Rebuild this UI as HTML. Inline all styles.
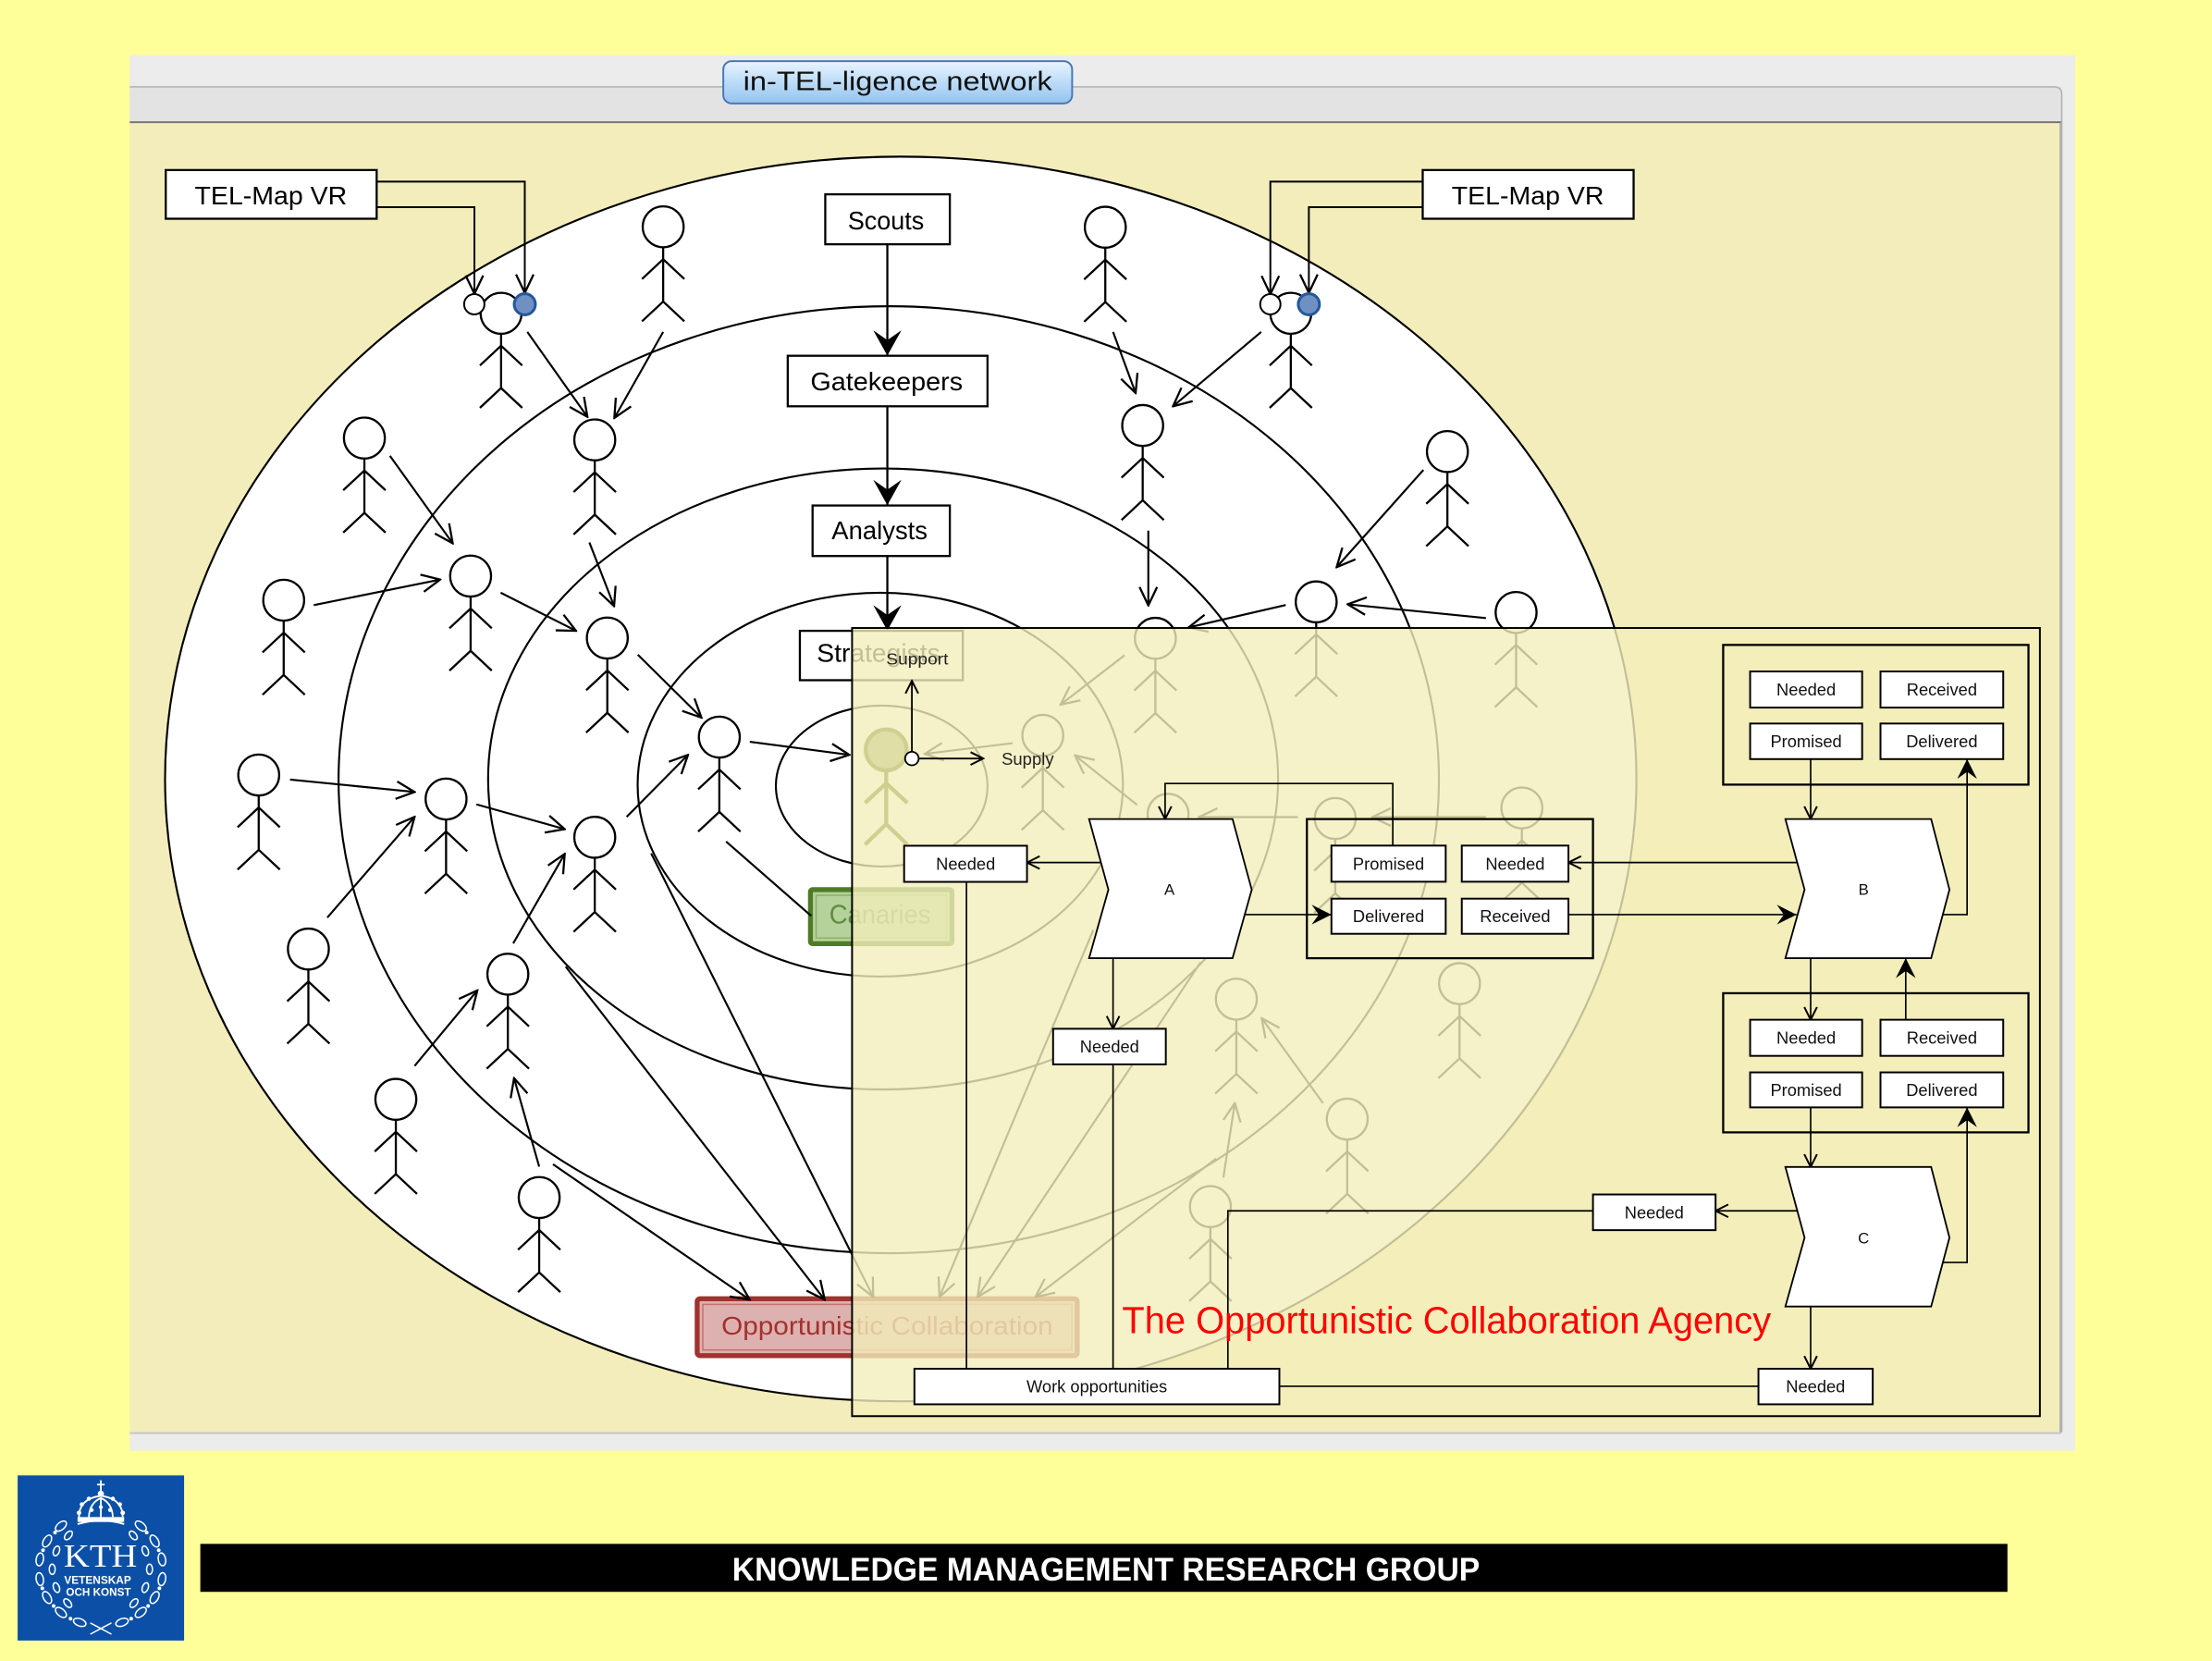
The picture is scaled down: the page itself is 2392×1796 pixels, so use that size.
<!DOCTYPE html>
<html><head><meta charset="utf-8">
<style>
html,body{margin:0;padding:0;background:#ffff99;width:2392px;height:1796px;overflow:hidden}
svg{display:block}
</style></head>
<body>
<svg xmlns="http://www.w3.org/2000/svg" width="2392" height="1796" viewBox="0 0 1568 1177" preserveAspectRatio="none" style="font-family:'Liberation Sans',sans-serif">
<defs>
  <marker id="oa" viewBox="-1 -1 16 16" refX="14" refY="7" markerWidth="16" markerHeight="16" markerUnits="userSpaceOnUse" orient="auto">
    <path d="M1,0.8 L14,7 L1,13.2" fill="none" stroke="#000" stroke-width="1.5"/>
  </marker>
  <marker id="fa" viewBox="0 0 18 20" refX="18" refY="10" markerWidth="18" markerHeight="20" markerUnits="userSpaceOnUse" orient="auto">
    <path d="M18,10 L0,0 L7,10 L0,20 Z" fill="#000"/>
  </marker>
  <marker id="po" viewBox="-1 -1 12 12" refX="10" refY="5" markerWidth="12" markerHeight="12" markerUnits="userSpaceOnUse" orient="auto">
    <path d="M1,0.5 L10,5 L1,9.5" fill="none" stroke="#000" stroke-width="1.3"/>
  </marker>
  <marker id="pf" viewBox="0 0 14 14" refX="14" refY="7" markerWidth="14" markerHeight="14" markerUnits="userSpaceOnUse" orient="auto">
    <path d="M14,7 L0,0 L5,7 L0,14 Z" fill="#000"/>
  </marker>
  <g id="fig" fill="none" stroke="#000" stroke-width="1.5">
    <circle cx="0" cy="0" r="14.5"/>
    <path d="M0,14.5 V53 M-15,37 L0,23 L15,37 M-15,67 L0,53 L15,67"/>
  </g>
  <linearGradient id="btn" x1="0" y1="0" x2="0" y2="1">
    <stop offset="0" stop-color="#eaf4ff"/>
    <stop offset="0.5" stop-color="#bcdcf8"/>
    <stop offset="1" stop-color="#94c4ef"/>
  </linearGradient>
</defs>

<!-- page bg -->
<rect x="0" y="0" width="1568" height="1177" fill="#ffff99"/>

<!-- window -->
<rect x="92" y="39" width="1379" height="989" fill="#ececec"/>
<rect x="92" y="61.5" width="1369.5" height="26" fill="#e3e3e3"/>
<path d="M92,61.5 H1456 Q1461.5,61.5 1461.5,67 V1015" fill="none" stroke="#b0b0b0" stroke-width="1"/>
<rect x="92" y="87" width="1368" height="928" fill="#f2edba"/>
<line x1="92" y1="86.6" x2="1461" y2="86.6" stroke="#777" stroke-width="1.3"/>
<line x1="92" y1="1015.5" x2="1461" y2="1015.5" stroke="#c4c4c4" stroke-width="1.2"/>
<line x1="1460.5" y1="87" x2="1460.5" y2="1015" stroke="#a8a8a8" stroke-width="1"/>

<!-- title button -->
<rect x="512.7" y="43.3" width="247.3" height="30" rx="6" fill="url(#btn)" stroke="#4a78b6" stroke-width="1.3"/>
<text x="526.8" y="64" font-size="18.5" fill="#111" textLength="219" lengthAdjust="spacingAndGlyphs">in-TEL-ligence network</text>

<!-- ellipses -->
<ellipse cx="638.5" cy="552" rx="521.5" ry="441" fill="#fff" stroke="#000" stroke-width="1.4"/>
<g fill="none" stroke="#000" stroke-width="1.4">
  <ellipse cx="630" cy="552.5" rx="390" ry="335.5"/>
  <ellipse cx="626" cy="552" rx="280" ry="220"/>
  <ellipse cx="624" cy="556" rx="172" ry="136"/>
  <ellipse cx="625" cy="557" rx="75" ry="57"/>
</g>

<!-- network boxes -->
<g fill="#fff" stroke="#000" stroke-width="1.5">
  <rect x="117.5" y="120.5" width="149.5" height="34.5"/>
  <rect x="1008.5" y="120.5" width="149.5" height="34.5"/>
  <rect x="585" y="137.7" width="88.3" height="35.4"/>
  <rect x="558.4" y="252.1" width="141.6" height="35.8"/>
  <rect x="576" y="358.2" width="97.3" height="35.8"/>
  <rect x="567" y="447" width="115.5" height="35"/>
</g>
<g font-size="18" fill="#000">
  <text x="138" y="144.9" textLength="108" lengthAdjust="spacingAndGlyphs">TEL-Map VR</text>
  <text x="1029" y="144.9" textLength="108" lengthAdjust="spacingAndGlyphs">TEL-Map VR</text>
  <text x="601" y="162.5" textLength="54" lengthAdjust="spacingAndGlyphs">Scouts</text>
  <text x="574.5" y="276.6" textLength="108" lengthAdjust="spacingAndGlyphs">Gatekeepers</text>
  <text x="589.5" y="382" textLength="68" lengthAdjust="spacingAndGlyphs">Analysts</text>
  <text x="579" y="469" textLength="87.5" lengthAdjust="spacingAndGlyphs">Strategists</text>
</g>

<!-- Canaries -->
<rect x="574.5" y="630.4" width="100.3" height="38.3" rx="1.5" fill="#b5d19c" stroke="#4e7c26" stroke-width="3.5"/>
<rect x="578.5" y="634.4" width="92.3" height="30.3" fill="none" stroke="#8db26c" stroke-width="1"/>
<text x="587.8" y="654.5" font-size="19" fill="#5e8c3c" textLength="72" lengthAdjust="spacingAndGlyphs">Canaries</text>

<!-- Opportunistic Collaboration -->
<rect x="494.2" y="920.3" width="269.4" height="40.3" rx="2" fill="#ddb1b0" stroke="#a0332f" stroke-width="3.5"/>
<rect x="498.2" y="924.3" width="261.4" height="32.3" fill="none" stroke="#c4726f" stroke-width="1"/>
<text x="511.4" y="945.7" font-size="18" fill="#a3302d" textLength="235" lengthAdjust="spacingAndGlyphs">Opportunistic Collaboration</text>

<!-- vertical hierarchy arrows -->
<g stroke="#000" stroke-width="1.5" fill="none" marker-end="url(#fa)">
  <path d="M629,173 V252"/>
  <path d="M629,288 V358"/>
  <path d="M629,394 V446.8"/>
</g>

<!-- TEL-Map connectors -->
<g stroke="#000" stroke-width="1.3" fill="none" marker-end="url(#oa)">
  <path d="M267,128.7 H372 V207.5"/>
  <path d="M267,146.8 H336.3 V208.2"/>
  <path d="M1008.5,128.7 H900.5 V208.5"/>
  <path d="M1008.5,146.8 H927.8 V207.5"/>
</g>

<!-- figures -->
<use href="#fig" x="470.1" y="160.7"/>
<use href="#fig" x="355.2" y="222"/>
<use href="#fig" x="783.5" y="161"/>
<use href="#fig" x="915" y="222"/>
<use href="#fig" x="258.3" y="310.4"/>
<use href="#fig" x="421.6" y="311.7"/>
<use href="#fig" x="810" y="301.5"/>
<use href="#fig" x="1026" y="320"/>
<use href="#fig" x="201.1" y="425.3"/>
<use href="#fig" x="333.6" y="408.2"/>
<use href="#fig" x="430.5" y="452.1"/>
<use href="#fig" x="933" y="426.5"/>
<use href="#fig" x="1074.7" y="434"/>
<use href="#fig" x="819" y="452.3"/>
<use href="#fig" x="509.9" y="522.3"/>
<use href="#fig" x="739.2" y="521.1"/>
<use href="#fig" x="183.4" y="549.2"/>
<use href="#fig" x="316.2" y="566.2"/>
<use href="#fig" x="421.6" y="593.3"/>
<use href="#fig" x="218.6" y="672.5"/>
<use href="#fig" x="360" y="690.3"/>
<use href="#fig" x="280.6" y="779"/>
<use href="#fig" x="382.2" y="848.6"/>
<use href="#fig" x="828" y="577"/>
<use href="#fig" x="946.5" y="580"/>
<use href="#fig" x="1078.8" y="572.5"/>
<use href="#fig" x="876.4" y="708"/>
<use href="#fig" x="1034.6" y="697"/>
<use href="#fig" x="955" y="793"/>
<use href="#fig" x="858" y="855"/>

<!-- small circles on figures -->
<circle cx="336.2" cy="215.6" r="7.2" fill="#fff" stroke="#000" stroke-width="1.3"/>
<circle cx="372" cy="215.6" r="7.5" fill="#7090c4" stroke="#24589a" stroke-width="2"/>
<circle cx="900.5" cy="215.6" r="7.2" fill="#fff" stroke="#000" stroke-width="1.3"/>
<circle cx="927.8" cy="215.6" r="7.5" fill="#7090c4" stroke="#24589a" stroke-width="2"/>

<!-- network arrows -->
<g stroke="#000" stroke-width="1.4" fill="none" marker-end="url(#oa)">
  <path d="M373.8,235.2 L416.4,295.4"/>
  <path d="M470.1,235.2 L435.5,296.2"/>
  <path d="M276.4,323 L320.9,385"/>
  <path d="M417.8,384.4 L435.3,429.5"/>
  <path d="M222.4,428.8 L312,410.7"/>
  <path d="M354.9,420 L408.3,447"/>
  <path d="M452.1,463.9 L497.2,508.5"/>
  <path d="M531.5,525.6 L602,534.9"/>
  <path d="M205.6,552.4 L293.9,561.2"/>
  <path d="M337.7,570 L400.3,587.5"/>
  <path d="M444.2,578.8 L487.7,534.9"/>
  <path d="M232,650.2 L293.9,578.8"/>
  <path d="M363.8,668.5 L400.3,605.1"/>
  <path d="M293.9,755.3 L338.4,701.8"/>
  <path d="M382.2,826.7 L364.4,764"/>
  <path d="M401,685 L584.6,921"/>
  <path d="M392,825 L531.5,921"/>
  <path d="M461.6,604.7 L619,919"/>
  <path d="M789,235.2 L805,278.5"/>
  <path d="M894,235.2 L831.5,287.9"/>
  <path d="M1009,333 L947.5,401.9"/>
  <path d="M814,376 L814,429"/>
  <path d="M911.4,428.7 L842.6,444.6"/>
  <path d="M1053.3,438 L955.3,428.2"/>
  <path d="M775,659 L666,919"/>
  <path d="M851,682 L693,919"/>
  <path d="M862,821 L734,919"/>
  <path d="M937.8,781.7 L894.4,721.5"/>
  <path d="M867.2,834.4 L875.3,781.7"/>
  <path d="M1053.3,579 L972.8,579"/>
  <path d="M920,579 L849.9,579"/>
  <path d="M797.2,464.3 L751.8,499.3"/>
  <path d="M806,570.3 L762,535.3"/>
  <path d="M717.8,526.6 L655.5,534.2"/>
</g>
<path d="M514.7,596.3 L575,649" stroke="#000" stroke-width="1.4" fill="none"/>

<!-- Agency panel overlay -->
<rect x="604" y="445" width="842" height="558.5" fill="#f2edba" fill-opacity="0.8" stroke="#000" stroke-width="1.3"/>

<!-- olive highlighted figure -->
<g fill="none" stroke="#cfcf90" stroke-width="2.8">
  <circle cx="628.2" cy="531.4" r="14.5" fill="#dfdea6"/>
  <path d="M628.2,546 V584 M613.2,569 L628.2,555 L643.2,569 M613.2,598.5 L628.2,584 L643.2,598.5"/>
</g>

<!-- Support / Supply -->
<g stroke="#000" stroke-width="1.2" fill="none" marker-end="url(#po)">
  <path d="M646.4,532.7 V482.4"/>
  <path d="M651.2,537.5 H697"/>
</g>
<circle cx="646.4" cy="537.5" r="4.8" fill="#fff" stroke="#000" stroke-width="1.2"/>
<text x="628.2" y="470.8" font-size="11.5" fill="#222" textLength="44" lengthAdjust="spacingAndGlyphs">Support</text>
<text x="710" y="541.9" font-size="12" fill="#222" textLength="37" lengthAdjust="spacingAndGlyphs">Supply</text>

<!-- panel connector lines -->
<g stroke="#000" stroke-width="1.1" fill="none">
  <path d="M685.1,624.9 V969.9"/>
  <path d="M789,754.2 V969.9"/>
  <path d="M1129.2,858 H870.4 V969.9"/>
  <path d="M906.9,982.3 H1246.5"/>
</g>
<g stroke="#000" stroke-width="1.1" fill="none" marker-end="url(#po)">
  <path d="M987.3,599.2 V555.2 H825.9 V580.4"/>
  <path d="M1274,611.2 H1111.8"/>
  <path d="M780.4,611.2 H728"/>
  <path d="M789,679 V729"/>
  <path d="M1283.5,537.9 V580.4"/>
  <path d="M1283.5,679 V722.6"/>
  <path d="M1283.5,784.7 V826.9"/>
  <path d="M1274,858 H1216.1"/>
  <path d="M1283.5,925.8 V969.9"/>
</g>
<g stroke="#000" stroke-width="1.1" fill="none" marker-end="url(#pf)">
  <path d="M881.9,648.1 H943.8"/>
  <path d="M1111.8,648.1 H1273.5"/>
  <path d="M1377.2,648.1 H1394.4 V537.9"/>
  <path d="M1350.9,722.6 V679"/>
  <path d="M1377.5,894.6 H1394.4 V784.7"/>
</g>

<!-- group boxes -->
<g fill="none" stroke="#000" stroke-width="1.5">
  <rect x="1221.5" y="457" width="216.4" height="99"/>
  <rect x="926.4" y="580.4" width="202.8" height="98.6"/>
  <rect x="1221.5" y="703.8" width="216.4" height="98.6"/>
</g>

<!-- chevrons -->
<g fill="#fff" stroke="#000" stroke-width="1.2">
  <polygon points="772,580.4 873.7,580.4 887.3,630.4 873.7,679 772,679 785.7,630.4"/>
  <polygon points="1265.6,580.4 1368.9,580.4 1381.9,630.4 1368.9,679 1265.6,679 1279.2,630.4"/>
  <polygon points="1265.6,826.9 1368.9,826.9 1381.9,877 1368.9,925.8 1265.6,925.8 1279.2,877"/>
</g>

<!-- small label boxes -->
<g fill="#fff" stroke="#000" stroke-width="1.3">
  <rect x="1240.6" y="475.8" width="79.4" height="25.6"/>
  <rect x="1333" y="475.8" width="87" height="25.6"/>
  <rect x="1240.6" y="512.7" width="79.4" height="25.2"/>
  <rect x="1333" y="512.7" width="87" height="25.2"/>
  <rect x="943.8" y="599.2" width="81" height="25.6"/>
  <rect x="1036.2" y="599.2" width="75.6" height="25.6"/>
  <rect x="943.8" y="636.8" width="81" height="24.9"/>
  <rect x="1036.2" y="636.8" width="75.6" height="24.9"/>
  <rect x="1240.6" y="722.6" width="79.4" height="25.6"/>
  <rect x="1333" y="722.6" width="87" height="25.6"/>
  <rect x="1240.6" y="759.9" width="79.4" height="24.8"/>
  <rect x="1333" y="759.9" width="87" height="24.8"/>
  <rect x="640.9" y="599.3" width="87.1" height="25.6"/>
  <rect x="746.5" y="729" width="79.9" height="25.2"/>
  <rect x="1129.2" y="846.4" width="86.9" height="25.3"/>
  <rect x="1246.5" y="969.9" width="81" height="25.2"/>
  <rect x="648.2" y="969.9" width="258.7" height="25.2"/>
</g>
<g font-size="12" fill="#111" text-anchor="middle">
  <text x="1280.3" y="492.8">Needed</text>
  <text x="1376.5" y="492.8">Received</text>
  <text x="1280.3" y="529.6">Promised</text>
  <text x="1376.5" y="529.6">Delivered</text>
  <text x="984.3" y="616.2">Promised</text>
  <text x="1074" y="616.2">Needed</text>
  <text x="984.3" y="653.4">Delivered</text>
  <text x="1074" y="653.4">Received</text>
  <text x="1280.3" y="739.6">Needed</text>
  <text x="1376.5" y="739.6">Received</text>
  <text x="1280.3" y="776.5">Promised</text>
  <text x="1376.5" y="776.5">Delivered</text>
  <text x="684.5" y="616.3">Needed</text>
  <text x="786.5" y="745.8">Needed</text>
  <text x="1172.6" y="863.3">Needed</text>
  <text x="1287" y="986.7">Needed</text>
  <text x="777.5" y="986.7">Work opportunities</text>
  <text x="829" y="634" font-size="11">A</text>
  <text x="1321" y="634" font-size="11">B</text>
  <text x="1321" y="881" font-size="11">C</text>
</g>

<!-- red caption -->
<text x="795.4" y="944.6" font-size="27" fill="#f00" textLength="460" lengthAdjust="spacingAndGlyphs">The Opportunistic Collaboration Agency</text>

<!-- KTH logo -->
<rect x="12.5" y="1045.5" width="118" height="117" fill="#0b50a6"/>
<g fill="none" stroke="#fff" stroke-width="1.2">
  <path d="M71.5,1049 V1057 M68.8,1052 H74.2"/>
  <circle cx="71.5" cy="1058.5" r="1.6" fill="#fff"/>
  <path d="M56,1075 Q56,1062 71.5,1060 Q87,1062 87,1075"/>
  <path d="M63,1075 Q63.5,1065 71.5,1061.5 Q79.5,1065 80,1075"/>
  <path d="M71.5,1061 V1075"/>
  <path d="M55,1080 Q71.5,1075 88,1080"/>
</g>
<rect x="55" y="1075" width="33" height="3.5" fill="#fff"/>
<g fill="#fff">
  <circle cx="56" cy="1072" r="1.6"/><circle cx="58" cy="1066" r="1.5"/><circle cx="63" cy="1062" r="1.5"/>
  <circle cx="87" cy="1072" r="1.6"/><circle cx="85" cy="1066" r="1.5"/><circle cx="80" cy="1062" r="1.5"/>
  <circle cx="65" cy="1070" r="1.4"/><circle cx="78" cy="1070" r="1.4"/><circle cx="71.5" cy="1068" r="1.4"/>
</g>
<g fill="none" stroke="#fff" stroke-width="1">
  <ellipse cx="99.8" cy="1081.4" rx="4.6" ry="2.6" transform="rotate(40 99.8 1081.4)"/>
  <ellipse cx="109.6" cy="1092" rx="4.6" ry="2.6" transform="rotate(60 109.6 1092)"/>
  <ellipse cx="114.8" cy="1105" rx="4.6" ry="2.6" transform="rotate(80 114.8 1105)"/>
  <ellipse cx="114.8" cy="1119" rx="4.6" ry="2.6" transform="rotate(100 114.8 1119)"/>
  <ellipse cx="109.6" cy="1132" rx="4.6" ry="2.6" transform="rotate(120 109.6 1132)"/>
  <ellipse cx="99.8" cy="1142.6" rx="4.6" ry="2.6" transform="rotate(140 99.8 1142.6)"/>
  <ellipse cx="86.5" cy="1149.6" rx="4.6" ry="2.6" transform="rotate(160 86.5 1149.6)"/>
  <ellipse cx="56.5" cy="1149.6" rx="4.6" ry="2.6" transform="rotate(20 56.5 1149.6)"/>
  <ellipse cx="43.2" cy="1142.6" rx="4.6" ry="2.6" transform="rotate(40 43.2 1142.6)"/>
  <ellipse cx="33.4" cy="1132" rx="4.6" ry="2.6" transform="rotate(60 33.4 1132)"/>
  <ellipse cx="28.2" cy="1119" rx="4.6" ry="2.6" transform="rotate(80 28.2 1119)"/>
  <ellipse cx="28.2" cy="1105" rx="4.6" ry="2.6" transform="rotate(100 28.2 1105)"/>
  <ellipse cx="33.4" cy="1092" rx="4.6" ry="2.6" transform="rotate(120 33.4 1092)"/>
  <ellipse cx="43.2" cy="1081.4" rx="4.6" ry="2.6" transform="rotate(140 43.2 1081.4)"/>
  <ellipse cx="94.5" cy="1088" rx="3.6" ry="2.1" transform="rotate(50 94.5 1088)"/>
  <ellipse cx="103" cy="1099" rx="3.6" ry="2.1" transform="rotate(70 103 1099)"/>
  <ellipse cx="106" cy="1112" rx="3.6" ry="2.1" transform="rotate(90 106 1112)"/>
  <ellipse cx="103" cy="1125" rx="3.6" ry="2.1" transform="rotate(110 103 1125)"/>
  <ellipse cx="95" cy="1136" rx="3.6" ry="2.1" transform="rotate(130 95 1136)"/>
  <ellipse cx="48.5" cy="1088" rx="3.6" ry="2.1" transform="rotate(130 48.5 1088)"/>
  <ellipse cx="40" cy="1099" rx="3.6" ry="2.1" transform="rotate(110 40 1099)"/>
  <ellipse cx="37" cy="1112" rx="3.6" ry="2.1" transform="rotate(90 37 1112)"/>
  <ellipse cx="40" cy="1125" rx="3.6" ry="2.1" transform="rotate(70 40 1125)"/>
  <ellipse cx="48" cy="1136" rx="3.6" ry="2.1" transform="rotate(50 48 1136)"/>
  <path d="M64,1150 L79,1158 M64,1158 L79,1150"/>
</g>
<g fill="#fff">
  <circle cx="104" cy="1086" r="1.3"/><circle cx="112.5" cy="1098.5" r="1.3"/><circle cx="113" cy="1125.5" r="1.3"/>
  <circle cx="105" cy="1138" r="1.3"/><circle cx="93" cy="1147" r="1.3"/>
  <circle cx="39" cy="1086" r="1.3"/><circle cx="30.5" cy="1098.5" r="1.3"/><circle cx="30" cy="1125.5" r="1.3"/>
  <circle cx="38" cy="1138" r="1.3"/><circle cx="50" cy="1147" r="1.3"/>
</g>
<text x="71.2" y="1110" font-family="'Liberation Serif',serif" font-size="23" fill="#fff" text-anchor="middle" textLength="52" lengthAdjust="spacingAndGlyphs">KTH</text>
<text x="69.2" y="1122.2" font-size="7.6" font-weight="bold" fill="#fff" text-anchor="middle" textLength="47.5" lengthAdjust="spacingAndGlyphs">VETENSKAP</text>
<text x="69.8" y="1130.9" font-size="7.6" font-weight="bold" fill="#fff" text-anchor="middle" textLength="46" lengthAdjust="spacingAndGlyphs">OCH KONST</text>

<!-- banner -->
<rect x="142" y="1094" width="1281" height="34" fill="#000"/>
<text x="519" y="1120" font-size="23" font-weight="bold" fill="#fff" textLength="530" lengthAdjust="spacingAndGlyphs">KNOWLEDGE MANAGEMENT RESEARCH GROUP</text>
</svg>
</body></html>
